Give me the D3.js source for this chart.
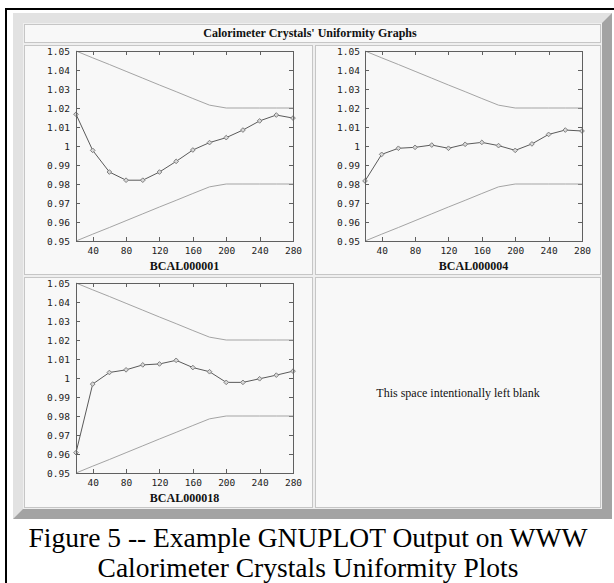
<!DOCTYPE html>
<html>
<head>
<meta charset="utf-8">
<script src="https://cdn.jsdelivr.net/npm/d3@7"></script>
<style>
    html, body { margin: 0; padding: 0; background: #ffffff; }
    svg { display: block; }
</style>
</head>
<body>
<div class="chart__container"></div>
<script>
/*---------------------------Data---------------------------*/

const X_VALUES = [20, 40, 60, 80, 100, 120, 140, 160, 180, 200, 220, 240, 260, 280];
const X_TICKS = [40, 80, 120, 160, 200, 240, 280];
const Y_TICKS = [0.95, 0.96, 0.97, 0.98, 0.99, 1.00, 1.01, 1.02, 1.03, 1.04, 1.05];

const UPPER_LIMIT = [1.05, 1.0464, 1.0429, 1.0393, 1.0357, 1.0321, 1.0286, 1.025, 1.0215, 1.02, 1.02, 1.02, 1.02, 1.02];
const LOWER_LIMIT = [0.95, 0.9536, 0.9571, 0.9607, 0.9643, 0.9679, 0.9714, 0.975, 0.9785, 0.98, 0.98, 0.98, 0.98, 0.98];

const CRYSTALS = ["BCAL000001", "BCAL000004", "BCAL000018"];
const BCAL000001 = [1.0167, 0.9977, 0.9863, 0.9820, 0.9820, 0.9863, 0.9919, 0.9979, 1.0018, 1.0044, 1.0084, 1.0132, 1.0163, 1.0147];
const BCAL000004 = [0.9816, 0.9956, 0.9988, 0.9993, 1.0005, 0.9988, 1.0009, 1.0019, 1.0002, 0.9977, 1.0011, 1.0061, 1.0084, 1.0079];
const BCAL000018 = [0.9607, 0.9968, 1.0029, 1.0043, 1.0069, 1.0074, 1.0093, 1.0055, 1.0033, 0.9977, 0.9977, 0.9996, 1.0015, 1.0036];

const TITLE = "Calorimeter Crystals' Uniformity Graphs";
const BLANK_TEXT = "This space intentionally left blank";
const CAPTION = ["Figure 5 -- Example GNUPLOT Output on WWW", "Calorimeter Crystals Uniformity Plots"];

/*---------------------------Layout---------------------------*/

const CHART__WIDTH = 614;
const CHART__HEIGHT = 583;
const PLOT = { width: 217, height: 190 };
const PANELS = [
    { x: 76, y: 51, pad: 6 },
    { x: 365, y: 51, pad: 5 },
    { x: 76, y: 283, pad: 6 },
];
const CELLS = [
    { x: 24, y: 45, w: 289, h: 230 },
    { x: 315, y: 45, w: 286, h: 230 },
    { x: 24, y: 277, w: 289, h: 231 },
    { x: 315, y: 277, w: 286, h: 231 },
];
const COLOR = {
    bevelLight: "#e2e2e2",
    bevelDark: "#a3a3a3",
    table: "#efefef",
    cell: "#f8f8f8",
    cellBorder: "#c6c6c6",
    frame: "#606060",
    limit: "#a4a4a4",
    line: "#5a5a5a",
    point: "#808080",
    label: "#222222",
};

const svg = d3.select(".chart__container").append("svg")
    .attr("width", CHART__WIDTH)
    .attr("height", CHART__HEIGHT);

//page border

svg.append("rect").attr("x", 5).attr("y", 8).attr("width", CHART__WIDTH - 5).attr("height", 2).attr("fill", "#000");
svg.append("rect").attr("x", 5).attr("y", 8).attr("width", 2).attr("height", CHART__HEIGHT - 8).attr("fill", "#000");

//table bevel

svg.append("rect").attr("x", 13).attr("y", 13).attr("width", 599).attr("height", 506).attr("fill", COLOR.bevelDark);
svg.append("polygon")
    .attr("points", "13,13 612,13 602,23 23,23 23,509 13,519")
    .attr("fill", COLOR.bevelLight);
svg.append("rect").attr("x", 23).attr("y", 23).attr("width", 579).attr("height", 486).attr("fill", COLOR.table);

//cells

svg.append("rect")
    .attr("x", 24.5).attr("y", 24.5).attr("width", 576).attr("height", 18)
    .attr("fill", COLOR.cell).attr("stroke", COLOR.cellBorder);

svg.selectAll(".cell")
    .data(CELLS)
    .enter()
    .append("rect")
    .attr("class", "cell")
    .attr("x", d => d.x + 0.5)
    .attr("y", d => d.y + 0.5)
    .attr("width", d => d.w - 1)
    .attr("height", d => d.h - 1)
    .attr("fill", COLOR.cell)
    .attr("stroke", COLOR.cellBorder);

//title

svg.append("text")
    .attr("x", 310)
    .attr("y", 37)
    .attr("text-anchor", "middle")
    .style("font-family", "'Liberation Serif', 'Times New Roman', serif")
    .style("font-weight", "bold")
    .style("font-size", "12px")
    .attr("fill", "#111")
    .text(TITLE);

//plots

const xScale = d3.scaleLinear().domain([20, 280]).range([0, PLOT.width]);
const yScale = d3.scaleLinear().domain([0.95, 1.05]).range([PLOT.height, 0]);
const yFormat = d => String(+d.toFixed(2));
const series = [BCAL000001, BCAL000004, BCAL000018];

const line = values => d3.line()
    .x((d, i) => xScale(X_VALUES[i]))
    .y(d => yScale(d))(values);

const styleAxis = g => {
    g.select(".domain").remove();
    g.selectAll(".tick line").attr("stroke", COLOR.frame).attr("shape-rendering", "crispEdges");
    g.selectAll(".tick text")
        .attr("fill", COLOR.label)
        .style("font-family", "'DejaVu Sans Mono', monospace")
        .style("font-size", "9.5px");
};

PANELS.forEach((p, k) => {
    const plot = svg.append("g").attr("transform", `translate(${p.x},${p.y})`);

    //create y-axis

    plot.append("g")
        .call(d3.axisLeft(yScale).tickValues(Y_TICKS).tickFormat(yFormat).tickSizeInner(-4).tickSizeOuter(0).tickPadding(p.pad))
        .call(styleAxis);
    plot.append("g")
        .attr("transform", `translate(${PLOT.width},0)`)
        .call(d3.axisRight(yScale).tickValues(Y_TICKS).tickFormat("").tickSizeInner(-4).tickSizeOuter(0))
        .call(styleAxis);

    //create x-axis

    plot.append("g")
        .attr("transform", `translate(0,${PLOT.height})`)
        .call(d3.axisBottom(xScale).tickValues(X_TICKS).tickSizeInner(-4).tickSizeOuter(0).tickPadding(6))
        .call(styleAxis);
    plot.append("g")
        .call(d3.axisTop(xScale).tickValues(X_TICKS).tickFormat("").tickSizeInner(-4).tickSizeOuter(0))
        .call(styleAxis);

    //limits

    plot.append("path").attr("d", line(UPPER_LIMIT)).attr("fill", "none").attr("stroke", COLOR.limit);
    plot.append("path").attr("d", line(LOWER_LIMIT)).attr("fill", "none").attr("stroke", COLOR.limit);

    //measurements

    plot.append("path").attr("d", line(series[k])).attr("fill", "none").attr("stroke", COLOR.line);

    plot.selectAll(".point")
        .data(series[k])
        .enter()
        .append("path")
        .attr("class", "point")
        .attr("d", d3.symbol(d3.symbolDiamond2, 14)())
        .attr("transform", (d, i) => `translate(${xScale(X_VALUES[i])},${yScale(d)})`)
        .attr("fill", "#d8d8d8")
        .attr("stroke", COLOR.point);

    //frame

    plot.append("rect")
        .attr("x", 0).attr("y", 0)
        .attr("width", PLOT.width).attr("height", PLOT.height)
        .attr("fill", "none")
        .attr("stroke", COLOR.frame)
        .attr("shape-rendering", "crispEdges");

    //crystal name

    plot.append("text")
        .attr("x", PLOT.width / 2)
        .attr("y", PLOT.height + 29)
        .attr("text-anchor", "middle")
        .style("font-family", "'Liberation Serif', 'Times New Roman', serif")
        .style("font-weight", "bold")
        .style("font-size", "12px")
        .attr("fill", "#111")
        .text(CRYSTALS[k]);
});

//blank cell

svg.append("text")
    .attr("x", 458)
    .attr("y", 397)
    .attr("text-anchor", "middle")
    .style("font-family", "'Liberation Serif', 'Times New Roman', serif")
    .style("font-size", "12px")
    .attr("fill", "#111")
    .text(BLANK_TEXT);

//caption

svg.selectAll(".caption")
    .data(CAPTION)
    .enter()
    .append("text")
    .attr("class", "caption")
    .attr("x", 308)
    .attr("y", (d, i) => 547 + i * 30)
    .attr("text-anchor", "middle")
    .style("font-family", "'Liberation Serif', 'Times New Roman', serif")
    .style("font-size", "27.5px")
    .attr("fill", "#000")
    .text(d => d);
</script>
</body>
</html>
